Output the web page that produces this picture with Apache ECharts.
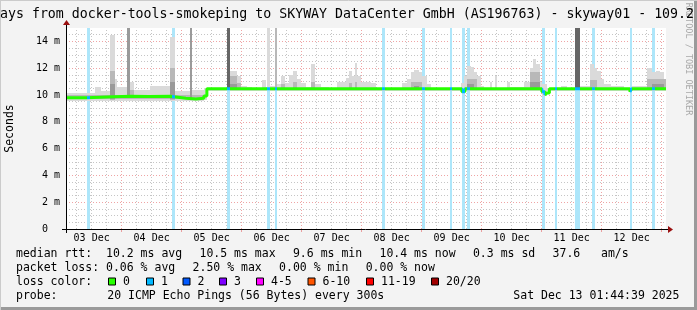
<!DOCTYPE html>
<html><head><meta charset="utf-8">
<script src="https://cdn.jsdelivr.net/npm/echarts@6/dist/echarts.min.js"></script>
<style>html,body{margin:0;padding:0;background:#f3f3f3}#c{width:697px;height:310px}</style>
</head><body><div id="c"></div>
<script>
// ---------------- DATA (x in hours since 03 Dec 00:00) ----------------
const tStart = 1.744, tEnd = 241.744;           // 03 Dec 01:44:39 .. 13 Dec 01:44:39
const dayLabels = ['03 Dec','04 Dec','05 Dec','06 Dec','07 Dec','08 Dec','09 Dec','10 Dec','11 Dec','12 Dec'];
const dayLabelTimes = [12,36,60,84,108,132,156,180,204,228];
const majorGridTimes = [24,48,72,96,120,144,168,192,216,240];
const minorGridTimes = [6,12,18,30,36,42,54,60,66,78,84,90,102,108,114,126,132,138,150,156,162,174,180,186,198,204,210,222,228,234];
const yTicks = [0,2,4,6,8,10,12,14];

// median rtt (ms), step values: [time, value]
const median = [[1.744,9.8],[10.1,9.87],[20.5,9.9],[27.7,9.88],[34.9,9.9],[43.3,9.85],[45.7,9.75],[49.7,9.7],[53.7,9.76],[56.9,9.92],[58.1,10.47],[160.1,10.25],[161.3,10.47],[192.1,10.25],[193.3,10.0],[194.1,10.15],[195.1,10.47],[227.3,10.25],[228.1,10.47],[241.744,10.47]];

// packet loss events (1 of 20 lost): [from, to]
const loss = [[10.1,11.3],[44.1,45.3],[66.1,67.3],[82.1,83.3],[85.3,86.1],[128.1,129.3],[144.1,145.3],[155.3,156.1],[160.1,161.3],[162.1,163.3],[192.1,193.3],[197.3,198.1],[205.3,207.3],[212.1,213.3],[227.3,228.1],[236.1,237.3]];

// smoke (ping spread), by density level: [from, to, low, high]
const smokeLight = [[1.744,13.3,9.55,10.15],[13.3,15.7,9.55,10.6],[15.7,19.3,9.55,10.3],[19.3,21.3,9.55,14.5],[21.3,22.1,9.55,11.2],[22.1,27.3,9.55,10.6],[27.3,28.9,9.55,11.0],[28.9,35.3,9.55,10.4],[35.3,43.3,9.55,10.65],[43.3,45.3,9.55,14.3],[45.3,51.3,9.55,10.3],[51.3,56.9,9.55,10.4],[56.9,58.1,9.6,10.5],
[58.1,66.1,10.3,10.5],[67.3,70.1,10.3,11.8],[70.1,71.7,10.3,11.4],[71.7,74.1,10.3,10.7],[74.1,76.1,10.3,10.6],[76.1,80.1,10.3,10.55],[80.1,81.7,10.3,11.1],[81.7,82.1,10.3,10.6],[82.1,83.3,10.35,15],[83.3,85.3,10.3,10.7],[86.1,87.7,10.3,10.8],[87.7,89.3,10.3,11.4],[89.3,90.9,10.3,10.9],[90.9,92.5,10.3,11.5],[92.5,94.1,10.3,11.8],[94.1,95.7,10.3,11.2],[95.7,97.7,10.3,10.9],[97.7,99.7,10.3,10.6],[99.7,101.3,10.3,12.3],[101.3,103.7,10.3,10.8],[103.7,106.9,10.3,10.6],[106.9,110.1,10.3,10.55],[110.1,113.7,10.3,11.0],[113.7,114.9,10.3,11.3],[114.9,116.1,10.3,11.8],[116.1,117.3,10.3,11.4],[117.3,118.1,10.3,12.4],[118.1,119.7,10.3,11.4],[119.7,123.7,10.3,11.0],[123.7,125.7,10.3,10.9],[125.7,136.1,10.3,10.55],[136.1,138.1,10.3,10.9],[138.1,139.7,10.3,11.2],[139.7,140.9,10.3,11.7],[140.9,142.9,10.3,11.9],[142.9,144.1,10.3,11.7],[144.1,146.1,10.3,11.4],[146.1,147.7,10.3,10.8],[147.7,159.7,10.3,10.55],[159.7,160.9,10.3,10.9],[160.9,162.1,10.3,11.4],[162.1,163.7,10.3,12.2],[163.7,164.9,10.3,12.1],[164.9,166.1,10.3,11.7],[166.1,167.7,10.3,11.4],[167.7,168.9,10.3,10.7],[168.9,171.3,10.3,10.55],[171.3,172.1,10.3,11.0],[172.1,173.3,10.3,10.55],[173.3,174.1,10.3,11.4],[174.1,178.1,10.3,10.55],[178.1,179.3,10.3,11.0],[179.3,184.9,10.3,10.6],[184.9,187.3,10.3,11.0],[187.3,188.5,10.3,12.0],[188.5,189.7,10.3,12.7],[189.7,191.3,10.3,12.3],[191.3,192.1,10.3,11.0],[192.1,194.1,9.9,10.8],[194.1,199.7,10.3,10.55],[199.7,202.1,10.3,10.7],[202.1,205.3,10.3,10.55],[207.3,211.3,10.3,10.7],[211.3,212.9,10.3,12.3],[212.9,214.1,10.3,12.0],[214.1,215.7,10.3,11.8],[215.7,216.9,10.3,11.2],[216.9,219.7,10.3,10.8],[219.7,224.9,10.3,10.7],[224.9,228.1,10.3,10.55],[228.1,234.1,10.3,10.7],[234.1,236.1,10.3,12.0],[236.1,237.7,10.3,11.7],[237.7,239.3,10.3,11.8],[239.3,240.9,10.3,11.7],[240.9,241.744,10.3,11.2]];
const smokeMid = [[1.744,56.9,9.68,9.97],[19.3,21.3,9.65,11.8],[27.3,28.9,9.7,10.4],[43.3,45.3,9.65,12.0],[85.3,86.1,10.35,15],[67.3,70.1,10.35,11.4],[70.1,71.7,10.35,10.9],[87.7,89.3,10.35,10.8],[92.5,94.1,10.35,11.0],[99.7,101.3,10.35,11.0],[114.9,116.1,10.35,10.9],[117.3,118.1,10.35,11.0],[139.7,144.1,10.35,11.0],[162.1,166.1,10.35,11.2],[187.3,191.3,10.35,11.7],[211.3,214.1,10.35,11.1],[234.1,241.744,10.35,11.2]];
const smokeDark = [[26.1,27.3,9.85,15],[51.3,52.1,9.7,15],[19.3,21.3,9.7,10.8],[43.3,45.3,9.7,11.0],[67.3,70.1,10.4,10.8],[140.9,142.9,10.4,10.7],[162.1,164.9,10.4,10.8],[187.3,191.3,10.4,11.0],[236.1,240.9,10.4,10.8]];
const smokeDarkest = [[66.1,67.3,10.4,15],[205.3,207.3,10.4,15]];

// legend texts
const titleText = 'ays from docker-tools-smokeping to SKYWAY DataCenter GmbH (AS196763) - skyway01 - 109.2';
const rttTexts = ['median rtt:  10.2 ms avg','10.5 ms max','9.6 ms min','10.4 ms now','0.3 ms sd','37.6   am/s'];
const lossTexts = ['packet loss: 0.06 % avg','2.50 % max','0.00 % min','0.00 % now'];
const lossColorLabels = ['0','1','2','3','4-5','6-10','11-19','20/20'];
const lossColors = ['#26ff00','#00b8ff','#0059ff','#7e00ff','#ff00ff','#ff5500','#ff0000','#a00000'];
const probeTexts = ['probe:','20 ICMP Echo Pings (56 Bytes) every 300s','Sat Dec 13 01:44:39 2025'];

// ---------------- LAYOUT / STYLE ----------------
const FONT = 'DejaVu Sans Mono';
const MAJOR = 'rgba(225,90,90,0.55)';
const MINOR = 'rgba(140,140,140,0.5)';
const G = {left:66, top:28, width:600, height:201};
const CW = 6.924, GAP = 17.3;   // legend char width and item gap
const boxX = [108,146,182.5,219,256,307.5,366,431];
const probeX = [16,107.3,513.3];
const rowY = [254.5,268.5,282.5,296.5];

function rectRender(color){
  return function(params, api){
    const a = api.coord([api.value(0), api.value(3)]);
    const b = api.coord([api.value(1), api.value(2)]);
    const cs = params.coordSys;
    const x = Math.round(a[0]), x2 = Math.round(b[0]);
    const y = Math.max(cs.y, Math.round(a[1])), y2 = Math.round(b[1]);
    return {type:'rect', shape:{x:x, y:y, width:Math.max(1,x2-x), height:y2-y}, style:{fill:color}};
  };
}
function lossRender(params, api){
  const a = api.coord([api.value(0), 0]);
  const b = api.coord([api.value(1), 0]);
  const cs = params.coordSys;
  const x = Math.round(a[0]), x2 = Math.round(b[0]);
  return {type:'rect', shape:{x:x, y:cs.y, width:Math.max(1,x2-x), height:cs.height}, style:{fill:'#ade6fa'}};
}
function vlineRender(color){
  return function(params, api){
    const p = api.coord([api.value(0), 0]);
    const cs = params.coordSys;
    const x = Math.floor(p[0]) + 0.5;
    return {type:'line', shape:{x1:x, y1:cs.y + cs.height, x2:x, y2:cs.y}, style:{stroke:color, lineWidth:1, lineDash:[1,2]}};
  };
}
function rectSeries(data, color, z){
  return {type:'custom', renderItem: rectRender(color), data: data, encode:{x:[0,1], y:[2,3]}, z:z, silent:true, clip:true};
}

const graphics = [];
graphics.push({type:'rect', shape:{x:G.left, y:G.top, width:G.width, height:G.height}, style:{fill:'#ffffff'}, z:-10, silent:true});
graphics.push({type:'line', shape:{x1:0, y1:308.5, x2:697, y2:308.5}, style:{stroke:'#9a9a9a', lineWidth:3}, silent:true});
graphics.push({type:'line', shape:{x1:695.5, y1:0, x2:695.5, y2:310}, style:{stroke:'#9a9a9a', lineWidth:3}, silent:true});
graphics.push({type:'line', shape:{x1:0, y1:0.5, x2:697, y2:0.5}, style:{stroke:'#cbcbcb', lineWidth:1}, silent:true});
graphics.push({type:'line', shape:{x1:0.5, y1:0, x2:0.5, y2:310}, style:{stroke:'#cbcbcb', lineWidth:1}, silent:true});
graphics.push({type:'line', shape:{x1:62, y1:229.5, x2:669, y2:229.5}, style:{stroke:'#000', lineWidth:1}, z:50, silent:true});
graphics.push({type:'polygon', shape:{points:[[668,226],[673,229.5],[668,233]]}, style:{fill:'#9a1010'}, z:50, silent:true});
graphics.push({type:'line', shape:{x1:66.5, y1:233, x2:66.5, y2:25}, style:{stroke:'#000', lineWidth:1}, z:50, silent:true});
graphics.push({type:'polygon', shape:{points:[[63,25],[66.5,20],[70,25]]}, style:{fill:'#9a1010'}, z:50, silent:true});
graphics.push({type:'text', x:0, y:14.5, style:{text:titleText, font:'13.25px "'+FONT+'"', fill:'#000', textAlign:'left', textVerticalAlign:'middle'}, z:50, silent:true});
graphics.push({type:'text', x:688.5, y:59, rotation:-Math.PI/2, style:{text:'RRDTOOL / TOBI OETIKER', font:'8.5px "'+FONT+'"', fill:'#a8a8a8', textAlign:'center', textVerticalAlign:'middle'}, silent:true});
graphics.push({type:'text', x:10.5, y:128.5, rotation:Math.PI/2, style:{text:'Seconds', font:'11.5px "'+FONT+'"', fill:'#000', textAlign:'center', textVerticalAlign:'middle'}, silent:true});
function txt(s, x, y){ return {type:'text', x:x, y:y, style:{text:s, font:'11.5px "'+FONT+'"', fill:'#000', textAlign:'left', textVerticalAlign:'middle'}, silent:true}; }
function legendRow(items, y){
  let x = 16;
  items.forEach(s=>{ graphics.push(txt(s, x, y)); x += s.length*CW + GAP; });
}
legendRow(rttTexts, rowY[0]);
legendRow(lossTexts, rowY[1]);
graphics.push(txt('loss color:', 16, rowY[2]));
lossColorLabels.forEach((s,i)=>{
  graphics.push({type:'rect', shape:{x:boxX[i]+0.5, y:rowY[2]-4.5, width:7, height:7}, style:{fill:lossColors[i], stroke:'#000', lineWidth:1}, silent:true});
  graphics.push(txt(s, boxX[i]+15, rowY[2]));
});
probeTexts.forEach((s,i)=>graphics.push(txt(s, probeX[i], rowY[3])));

const option = {
  animation:false,
  backgroundColor:'#f3f3f3',
  grid:{left:G.left, top:G.top, width:G.width, height:G.height, containLabel:false},
  xAxis:{type:'value', min:tStart, max:tEnd,
    axisLine:{show:false}, splitLine:{show:false},
    axisTick:{show:true, customValues:majorGridTimes, length:3, lineStyle:{color:MAJOR}},
    axisLabel:{customValues:dayLabelTimes, formatter:v=>dayLabels[dayLabelTimes.indexOf(v)] || '', fontFamily:FONT, fontSize:10, color:'#000', margin:4}
  },
  yAxis:{type:'value', min:0, max:15, interval:0.5,
    axisLine:{show:false}, axisTick:{show:false},
    axisLabel:{formatter:v=> yTicks.indexOf(v) < 0 ? '' : (v===0 ? '0  ' : v+' m'), fontFamily:FONT, fontSize:10, color:'#000', margin:6},
    splitLine:{show:true, showMaxLine:false, lineStyle:{color:[MAJOR,MINOR,MINOR,MINOR], width:1, type:[1,2]}}
  },
  visualMap:{type:'piecewise', show:false, seriesIndex:7, dimension:0,
    pieces: loss.map(d=>({gte:d[0], lte:d[1], color:lossColors[1]})),
    outOfRange:{color:lossColors[0]}},
  series:[
    {type:'custom', renderItem:vlineRender(MINOR), data:minorGridTimes.map(v=>[v]), encode:{x:0}, z:1, silent:true},
    {type:'custom', renderItem:vlineRender(MAJOR), data:majorGridTimes.map(v=>[v]), encode:{x:0}, z:1, silent:true},
    {type:'custom', renderItem:lossRender, data:loss, encode:{x:[0,1]}, z:2, silent:true},
    rectSeries(smokeLight, '#dadada', 3),
    rectSeries(smokeMid, '#b8b8b8', 4),
    rectSeries(smokeDark, '#9a9a9a', 5),
    rectSeries(smokeDarkest, '#666666', 6),
    {type:'line', step:'end', data:median, showSymbol:false, lineStyle:{width:3}, z:8, silent:true, clip:true}
  ],
  graphic:graphics
};
const chart = echarts.init(document.getElementById('c'));
chart.setOption(option);
</script></body></html>
